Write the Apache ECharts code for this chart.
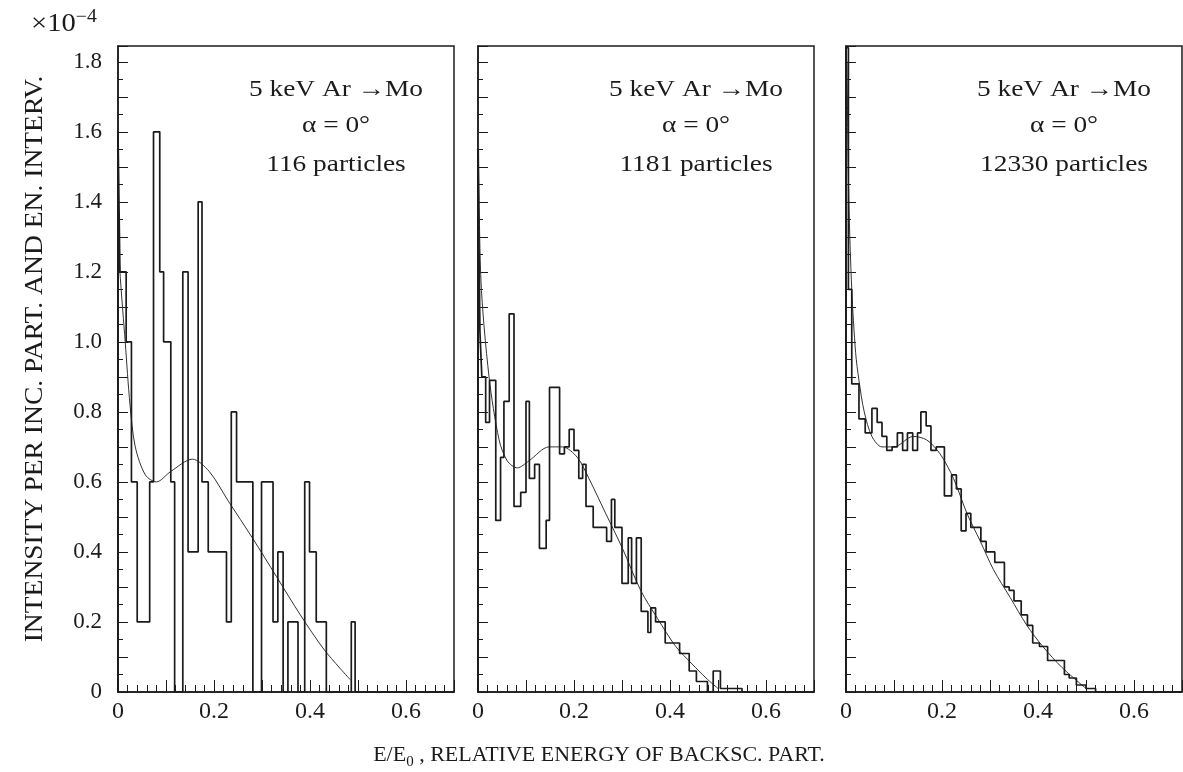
<!DOCTYPE html>
<html>
<head>
<meta charset="utf-8">
<title>5 keV Ar -> Mo backscattering spectra</title>
<script src="https://cdn.jsdelivr.net/npm/echarts@6/dist/echarts.min.js"></script>
<style>
  html, body { margin: 0; padding: 0; background: #fff; }
  #chart { width: 1183px; height: 772px; }
</style>
</head>
<body>
<div id="chart"></div>
<script>
// histogram bin edges / heights (x10^-4)
var edges1 = [0, 0.004, 0.017, 0.028, 0.04, 0.066, 0.074, 0.087, 0.095, 0.11, 0.118, 0.135, 0.146, 0.167, 0.175, 0.188, 0.226, 0.236, 0.247, 0.281, 0.299, 0.323, 0.333, 0.344, 0.354, 0.375, 0.389, 0.399, 0.413, 0.434, 0.486, 0.494, 0.7];
var counts1 = [1.6, 1.2, 1.0, 0.6, 0.2, 0.6, 1.6, 1.2, 1.0, 0.6, 0, 1.2, 0.4, 1.4, 0.6, 0.4, 0.2, 0.8, 0.6, 0, 0.6, 0.2, 0.4, 0, 0.2, 0, 0.6, 0.4, 0.2, 0, 0.2, 0];

var edges2 = [0, 0.004, 0.008, 0.016, 0.024, 0.037, 0.047, 0.054, 0.065, 0.075, 0.089, 0.1, 0.107, 0.118, 0.128, 0.142, 0.149, 0.17, 0.18, 0.19, 0.2, 0.21, 0.218, 0.225, 0.24, 0.268, 0.278, 0.285, 0.3, 0.313, 0.32, 0.33, 0.34, 0.354, 0.36, 0.37, 0.39, 0.42, 0.44, 0.455, 0.478, 0.49, 0.505, 0.55, 0.7];
var counts2 = [1.55, 1.03, 0.9, 0.77, 0.89, 0.49, 0.67, 0.83, 1.08, 0.53, 0.57, 0.83, 0.61, 0.65, 0.41, 0.49, 0.87, 0.68, 0.70, 0.75, 0.69, 0.61, 0.65, 0.53, 0.47, 0.43, 0.55, 0.47, 0.31, 0.44, 0.31, 0.44, 0.23, 0.17, 0.24, 0.2, 0.14, 0.11, 0.06, 0.03, 0, 0.06, 0.01, 0];

var edges3 = [0, 0.005, 0.012, 0.027, 0.04, 0.054, 0.065, 0.075, 0.085, 0.096, 0.107, 0.118, 0.128, 0.139, 0.149, 0.156, 0.167, 0.177, 0.188, 0.205, 0.22, 0.23, 0.24, 0.25, 0.26, 0.281, 0.292, 0.31, 0.33, 0.34, 0.35, 0.365, 0.378, 0.389, 0.403, 0.42, 0.455, 0.465, 0.48, 0.5, 0.52, 0.7];
var counts3 = [1.84, 1.15, 0.88, 0.78, 0.74, 0.81, 0.77, 0.73, 0.69, 0.70, 0.74, 0.69, 0.74, 0.69, 0.74, 0.80, 0.76, 0.69, 0.70, 0.56, 0.62, 0.58, 0.46, 0.51, 0.47, 0.43, 0.40, 0.37, 0.30, 0.29, 0.26, 0.22, 0.19, 0.14, 0.13, 0.09, 0.05, 0.04, 0.02, 0.01, 0];

// fitted curves
var fitX1 = [0, 0.005, 0.015, 0.025, 0.036, 0.057, 0.08, 0.11, 0.155, 0.19, 0.23, 0.28, 0.33, 0.38, 0.43, 0.484];
var fitY1 = [1.3, 1.18, 1.0, 0.82, 0.70, 0.62, 0.60, 0.63, 0.665, 0.63, 0.545, 0.44, 0.33, 0.22, 0.12, 0.035];
var fitX2 = [0.001, 0.006, 0.023, 0.044, 0.061, 0.082, 0.106, 0.148, 0.176, 0.207, 0.231, 0.266, 0.301, 0.339, 0.374, 0.412, 0.446, 0.475, 0.5];
var fitY2 = [1.6, 1.18, 0.90, 0.72, 0.66, 0.64, 0.66, 0.70, 0.70, 0.67, 0.61, 0.51, 0.41, 0.29, 0.21, 0.13, 0.08, 0.04, 0.01];
var fitX3 = [0.002, 0.006, 0.012, 0.02, 0.027, 0.038, 0.054, 0.075, 0.1, 0.14, 0.168, 0.196, 0.224, 0.252, 0.28, 0.307, 0.342, 0.377, 0.41, 0.45, 0.5];
var fitY3 = [1.8, 1.4, 1.15, 0.97, 0.89, 0.80, 0.73, 0.70, 0.70, 0.73, 0.72, 0.68, 0.61, 0.51, 0.43, 0.35, 0.27, 0.19, 0.13, 0.07, 0.01];

var particles = ['116 particles', '1181 particles', '12330 particles'];
var xTickLabels = [0, 0.2, 0.4, 0.6];
var yTickLabels = [0, 0.2, 0.4, 0.6, 0.8, 1.0, 1.2, 1.4, 1.6, 1.8];

var hists = [[edges1, counts1], [edges2, counts2], [edges3, counts3]];
var fits = [[fitX1, fitY1], [fitX2, fitY2], [fitX3, fitY3]];

var chart = echarts.init(document.getElementById('chart'));
var serif = '"Liberation Serif", "Times New Roman", serif';
var ink = '#1b1b1b';
var lefts = [118, 478, 846];
var plotTop = 46, plotW = 336, plotH = 646;

function stepData(edges, vals) {
    var d = [[edges[0], 0]];
    for (var i = 0; i < vals.length; i++) d.push([edges[i], vals[i]]);
    d.push([edges[edges.length - 1], vals[vals.length - 1]]);
    return d;
}
function zip(xs, ys) {
    return xs.map(function (x, i) { return [x, ys[i]]; });
}
function numLabel(v) {
    return v === 0 ? '0' : v.toFixed(1);
}

var grids = [], xAxes = [], yAxes = [], series = [], graphics = [];

for (var i = 0; i < 3; i++) {
    grids.push({
        left: lefts[i], top: plotTop, width: plotW, height: plotH,
        show: true, borderColor: ink, borderWidth: 1.5
    });
    xAxes.push({
        gridIndex: i, type: 'value', min: 0, max: 0.7, interval: 0.1,
        axisLine: { show: true, lineStyle: { color: ink, width: 1.5 } },
        axisTick: { show: true, inside: true, length: 12, lineStyle: { color: ink, width: 1 } },
        minorTick: { show: true, splitNumber: 5, length: 7, lineStyle: { color: ink, width: 1 } },
        splitLine: { show: false },
        axisLabel: {
            customValues: xTickLabels, formatter: numLabel, margin: 8,
            fontFamily: serif, fontSize: 24, color: ink
        }
    });
    yAxes.push({
        gridIndex: i, type: 'value', min: 0, max: 1.845, interval: 0.1,
        axisLine: { show: true, lineStyle: { color: ink, width: 1.5 } },
        axisTick: { show: true, inside: true, length: 10, lineStyle: { color: ink, width: 1 } },
        minorTick: { show: true, splitNumber: 2, length: 5, lineStyle: { color: ink, width: 1 } },
        splitLine: { show: false },
        axisLabel: {
            show: i === 0, customValues: yTickLabels, formatter: numLabel, margin: 16,
            fontFamily: serif, fontSize: 23, color: ink
        }
    });
    series.push({
        type: 'line', xAxisIndex: i, yAxisIndex: i,
        data: stepData(hists[i][0], hists[i][1]),
        step: 'end', symbol: 'none', z: 3,
        lineStyle: { color: ink, width: 1.7 }
    });
    series.push({
        type: 'line', xAxisIndex: i, yAxisIndex: i,
        data: zip(fits[i][0], fits[i][1]),
        smooth: 0.3, symbol: 'none', z: 2,
        lineStyle: { color: '#333', width: 1 }
    });

    // panel annotation
    var cx = lefts[i] + plotW - 118;
    var lines = ['5 keV Ar \u2192Mo', '\u03b1 = 0\u00b0', particles[i]];
    var ys = [90, 126, 165];
    for (var k = 0; k < 3; k++) {
        graphics.push({
            type: 'text', x: cx, y: ys[k], z: 10, scaleX: 1.14,
            style: {
                text: lines[k], font: '24px ' + serif, fill: ink,
                align: 'center', verticalAlign: 'middle',
                textAlign: 'center', textVerticalAlign: 'middle'
            }
        });
    }
}

// x10^-4 multiplier
graphics.push({
    type: 'text', x: 31, y: 8, scaleX: 1.1,
    style: {
        text: '{a|\u00d710}{b|\u22124}', fill: ink,
        rich: {
            a: { fontFamily: serif, fontSize: 26, lineHeight: 32, color: ink },
            b: { fontFamily: serif, fontSize: 18, lineHeight: 18, color: ink, verticalAlign: 'top' }
        }
    }
});
// y axis title
graphics.push({
    type: 'text', x: 35, y: 359, rotation: Math.PI / 2, scaleX: 1.06,
    style: {
        text: 'INTENSITY PER INC. PART. AND EN. INTERV.', font: '26px ' + serif, fill: ink,
        align: 'center', verticalAlign: 'middle', textAlign: 'center', textVerticalAlign: 'middle'
    }
});
// x axis title
graphics.push({
    type: 'text', x: 599, y: 755,
    style: {
        text: '{n|E/E}{s|0}{n| , RELATIVE ENERGY OF BACKSC. PART.}', fill: ink,
        align: 'center', verticalAlign: 'middle', textAlign: 'center', textVerticalAlign: 'middle',
        rich: {
            n: { fontFamily: serif, fontSize: 22, lineHeight: 30, color: ink },
            s: { fontFamily: serif, fontSize: 15, lineHeight: 14, color: ink, verticalAlign: 'bottom' }
        }
    }
});

var option = {
    backgroundColor: '#fff',
    animation: false,
    grid: grids,
    xAxis: xAxes,
    yAxis: yAxes,
    series: series,
    graphic: { elements: graphics }
};
chart.setOption(option);
</script>
</body>
</html>
